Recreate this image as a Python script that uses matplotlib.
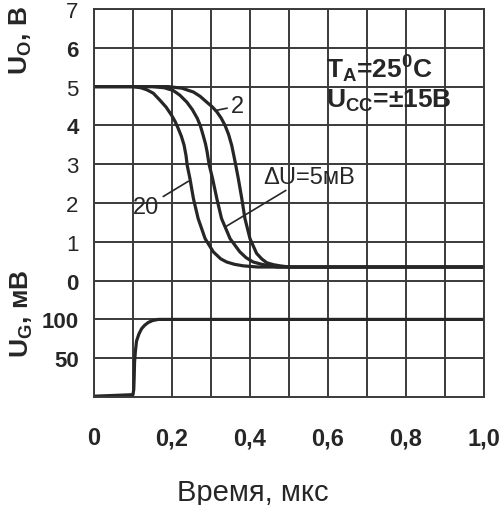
import numpy as np
import matplotlib
matplotlib.use('Agg')
import matplotlib.pyplot as plt

plt.rcParams['font.family'] = ['Liberation Sans', 'DejaVu Sans']
plt.rcParams['mathtext.default'] = 'regular'

# Выходное напряжение Uo, В (кривые для разных перевозбуждений)
t_20 = [0, 0.10, 0.12, 0.135, 0.152, 0.169, 0.185, 0.199, 0.208, 0.216, 0.224,
        0.231, 0.236, 0.239, 0.246, 0.255, 0.267, 0.285, 0.306, 0.325, 0.34,
        0.36, 0.383, 0.42, 1.0]
u_20 = [5.0, 5.0, 4.97, 4.92, 4.83, 4.65, 4.47, 4.26, 4.1, 3.92, 3.72,
        3.49, 3.22, 2.97, 2.63, 2.11, 1.6, 1.08, 0.74, 0.56, 0.48,
        0.42, 0.38, 0.35, 0.35]

t_5 = [0, 0.15, 0.18, 0.203, 0.22, 0.238, 0.252, 0.265, 0.273, 0.28, 0.286,
       0.29, 0.295, 0.304, 0.315, 0.327, 0.349, 0.374, 0.39, 0.408, 0.43,
       0.451, 0.47, 1.0]
u_5 = [5.0, 5.0, 4.97, 4.9, 4.78, 4.6, 4.41, 4.18, 3.98, 3.74, 3.52,
       3.32, 3.0, 2.63, 2.11, 1.6, 1.08, 0.74, 0.59, 0.48, 0.42,
       0.38, 0.35, 0.35]

t_2 = [0, 0.19, 0.225, 0.255, 0.272, 0.289, 0.303, 0.315, 0.326, 0.336, 0.345,
       0.353, 0.358, 0.363, 0.37, 0.379, 0.387, 0.4, 0.417, 0.43, 0.443,
       0.46, 0.477, 0.5, 1.0]
u_2 = [5.0, 5.0, 4.96, 4.86, 4.75, 4.6, 4.48, 4.35, 4.19, 4.0, 3.77,
       3.49, 3.25, 3.0, 2.63, 2.11, 1.6, 1.08, 0.7, 0.56, 0.46,
       0.41, 0.38, 0.35, 0.35]

# Входной сигнал Ug, мВ
t_g = [0, 0.10, 0.102, 0.103, 0.104, 0.106, 0.109, 0.115, 0.122, 0.130,
       0.139, 0.15, 0.165, 1.0]
ug = [1, 3, 10, 25, 45, 58, 72, 81, 88, 92.5, 96, 98.5, 100, 100]

x_ticks = [0, 0.2, 0.4, 0.6, 0.8, 1.0]
x_labels = ['0', '0,2', '0,4', '0,6', '0,8', '1,0']
y_ticks = [7, 6, 5, 4, 3, 2, 1, 0, -1, -2]
y_labels = ['7', '6', '5', '4', '3', '2', '1', '0', '100', '50']
y_bold = ['6', '4', '0', '100', '50']


def mv_to_axis(v):
    # нижняя часть сетки: 0 мВ -> -3, 50 мВ на клетку
    return -3 + np.asarray(v) / 50.0


W, H = 503, 506
fig = plt.figure(figsize=(W / 100, H / 100), dpi=100)
ax = fig.add_axes([94 / W, 108 / H, 390 / W, 388 / H])

ax.set_xlim(0, 1.0)
ax.set_ylim(-3, 7)

ink = '#262626'
grid_c = '#3a3a3a'

ax.set_xticks(x_ticks)
ax.set_xticks(np.arange(0.1, 1.0, 0.2), minor=True)
ax.set_yticks(y_ticks)
ax.grid(True, which='both', color=grid_c, lw=1.4)
ax.set_axisbelow(True)
for s in ax.spines.values():
    s.set_color(grid_c)
    s.set_linewidth(1.4)
ax.tick_params(which='both', length=0)
ax.tick_params(axis='x', pad=21)
ax.tick_params(axis='y', pad=11)

ax.set_xticklabels(x_labels, fontsize=17, fontweight='bold', color=ink)
ax.set_yticklabels(y_labels, fontsize=16, color=ink)
for lab in ax.get_yticklabels():
    if lab.get_text() in y_bold:
        lab.set_fontweight('bold')

for t, u in [(t_20, u_20), (t_5, u_5), (t_2, u_2)]:
    ax.plot(t, u, color=ink, lw=2.3, solid_capstyle='round', solid_joinstyle='round')
ax.plot(t_g, mv_to_axis(ug), color=ink, lw=2.3, solid_joinstyle='round')

# подписи кривых
ax.annotate('2', xy=(0.31, 4.38), xytext=(0.352, 4.5), fontsize=17,
            color=ink, va='center', ha='left',
            arrowprops=dict(arrowstyle='-', color=ink, lw=1.2, shrinkB=0, shrinkA=1))
ax.annotate('20', xy=(0.242, 2.56), xytext=(0.10, 1.9), fontsize=17,
            color=ink, va='center', ha='left',
            arrowprops=dict(arrowstyle='-', color=ink, lw=1.2, shrinkB=0, shrinkA=1))
ax.annotate('ΔU=5мВ', xy=(0.336, 1.38), xytext=(0.433, 2.68), fontsize=17,
            color=ink, va='center', ha='left',
            arrowprops=dict(arrowstyle='-', color=ink, lw=1.2, shrinkB=0, shrinkA=0))

ax.text(0.596, 5.23, r'T$_\mathregular{A}$=25$^\mathregular{0}$C', fontsize=19,
        fontweight='bold', color=ink, ha='left', va='baseline')
ax.text(0.596, 4.48, r'U$_\mathregular{CC}$=±15B', fontsize=19,
        fontweight='bold', color=ink, ha='left', va='baseline')

fig.text(21 / W, 1 - 41 / H, r'U$_\mathregular{O}$, B', rotation=90, fontsize=19,
         fontweight='bold', color=ink, ha='center', va='center')
fig.text(22 / W, 1 - 314 / H, r'U$_\mathregular{G}$, мВ', rotation=90, fontsize=19,
         fontweight='bold', color=ink, ha='center', va='center')
fig.text(253 / W, 1 - 493 / H, 'Время, мкс', fontsize=21, color=ink,
         ha='center', va='center')

fig.savefig('out.png', dpi=100)
